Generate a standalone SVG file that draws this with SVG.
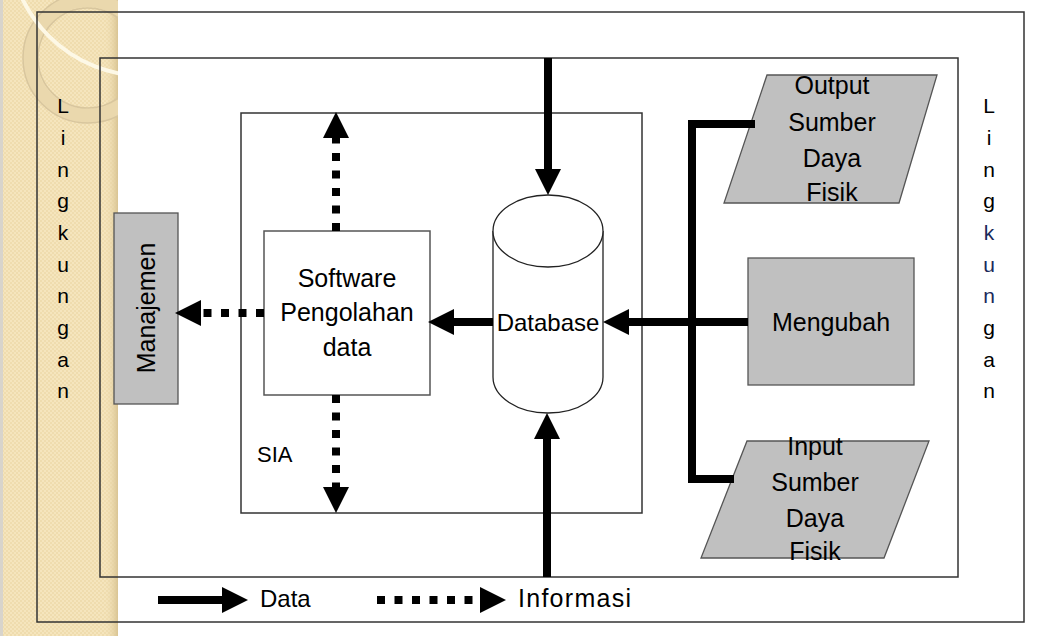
<svg xmlns="http://www.w3.org/2000/svg" width="1053" height="636" viewBox="0 0 1053 636">
<defs>
<style>
.frame{fill:none;stroke:#333;stroke-width:1.5}
.box{fill:#fff;stroke:#555;stroke-width:1.5}
.gray{fill:#c0c0c0;stroke:#555;stroke-width:1.3}
.txt{font-family:"Liberation Sans",Arial,sans-serif;fill:#000}
.lbl{font-size:25px;text-anchor:middle}
.ling{font-size:21px;text-anchor:middle}
.data{fill:none;stroke:#000;stroke-width:8}
.info{fill:none;stroke:#000;stroke-width:8;stroke-dasharray:8 9.5}
</style>
<marker id="head" markerUnits="userSpaceOnUse" viewBox="0 0 26 26" markerWidth="26" markerHeight="26" refX="0" refY="13" orient="auto">
<path d="M0,0 L26,13 L0,26 Z" fill="#000"/>
</marker>
<linearGradient id="edge" x1="0" y1="0" x2="1" y2="0">
<stop offset="0" stop-color="#f3e2b8" stop-opacity="0"/>
<stop offset="1" stop-color="#d9c493"/>
</linearGradient>
<pattern id="chk" width="4" height="4" patternUnits="userSpaceOnUse">
<rect width="4" height="4" fill="#f5e5bd"/>
<rect width="2" height="2" fill="#efdcae"/>
<rect x="2" y="2" width="2" height="2" fill="#efdcae"/>
</pattern>
<clipPath id="strip"><rect x="0" y="0" width="118" height="636"/></clipPath>
</defs>
<rect width="1053" height="636" fill="#fff"/>
<g id="background">
<rect x="0" y="0" width="118" height="636" fill="url(#chk)"/>
<rect x="0" y="0" width="3" height="636" fill="#d8d4cc"/>
<rect x="104" y="0" width="14" height="636" fill="url(#edge)"/>
<g clip-path="url(#strip)">
<circle cx="88" cy="58" r="58" fill="none" stroke="#ead8ad" stroke-width="14"/>
<circle cx="88" cy="58" r="65" fill="none" stroke="#d8c69e" stroke-width="1.5"/>
<circle cx="88" cy="58" r="50" fill="none" stroke="#d8c69e" stroke-width="1.5"/>
<circle cx="145" cy="-60" r="136" fill="none" stroke="#fdf8e6" stroke-width="4"/>
</g>
</g>
<g id="frames">
<rect class="frame" x="37" y="12" width="987" height="610"/>
<rect class="frame" x="100" y="58" width="858" height="519" stroke="#444"/>
</g>
<g id="sia">
<rect class="frame" x="241" y="113" width="401" height="400"/>
<text class="txt" x="257" y="462" font-size="22">SIA</text>
</g>
<g id="lingkungan-left" class="txt ling">
<text x="63" y="113">L</text><text x="63" y="145">i</text><text x="63" y="177">n</text><text x="63" y="208">g</text><text x="63" y="240">k</text><text x="63" y="272">u</text><text x="63" y="303">n</text><text x="63" y="335">g</text><text x="63" y="367">a</text><text x="63" y="398">n</text>
</g>
<g id="lingkungan-right" class="txt ling">
<text x="989" y="113">L</text><text x="989" y="145">i</text><text x="989" y="177">n</text><text x="989" y="208">g</text><text x="989" y="240" fill="#1a2a5a">k</text><text x="989" y="272" fill="#1a2a5a">u</text><text x="989" y="303" fill="#1a2a5a">n</text><text x="989" y="335">g</text><text x="989" y="367">a</text><text x="989" y="398">n</text>
</g>
<g id="manajemen">
<rect class="gray" x="114" y="213" width="64" height="191"/>
<text class="txt lbl" transform="translate(155,308) rotate(-90)">Manajemen</text>
</g>
<g id="software">
<rect class="box" x="264" y="231" width="166" height="164"/>
<text class="txt lbl" x="347" y="287">Software</text>
<text class="txt lbl" x="347" y="321">Pengolahan</text>
<text class="txt lbl" x="347" y="356">data</text>
</g>
<g id="database">
<path d="M493,231 V377 A55,36 0 0 0 603,377 V231" fill="#fff" stroke="#222" stroke-width="1.3"/>
<ellipse cx="548" cy="231" rx="55" ry="36" fill="#fff" stroke="#222" stroke-width="1.3"/>
<text class="txt" x="548" y="331" font-size="24" text-anchor="middle">Database</text>
</g>
<g id="output">
<polygon class="gray" points="767,75 937,75 899,203 724,203"/>
<text class="txt lbl" x="832" y="94">Output</text>
<text class="txt lbl" x="832" y="131">Sumber</text>
<text class="txt lbl" x="832" y="167">Daya</text>
<text class="txt lbl" x="832" y="201">Fisik</text>
</g>
<g id="mengubah">
<rect class="gray" x="748" y="258" width="166" height="127"/>
<text class="txt lbl" x="831" y="331">Mengubah</text>
</g>
<g id="input">
<polygon class="gray" points="747,441 929,441 884,558 701,558"/>
<text class="txt lbl" x="815" y="455">Input</text>
<text class="txt lbl" x="815" y="491">Sumber</text>
<text class="txt lbl" x="815" y="527">Daya</text>
<text class="txt lbl" x="815" y="560">Fisik</text>
</g>
<g id="connectors">
<path class="data" d="M548,58 V169" marker-end="url(#head)"/>
<path class="data" d="M547,577 V439" marker-end="url(#head)"/>
<path class="data" d="M493,322 H454" marker-end="url(#head)"/>
<path class="data" d="M748,322 H629" marker-end="url(#head)"/>
<path class="data" d="M755,124 H692 V479 H734" stroke-linejoin="miter"/>
<path class="info" d="M264,313 H201" marker-end="url(#head)"/>
<path class="info" d="M336,231 V138" marker-end="url(#head)"/>
<path class="info" d="M336,395 V487" marker-end="url(#head)"/>
</g>
<g id="legend">
<path class="data" d="M158,600 H222" marker-end="url(#head)"/>
<text class="txt" x="260" y="607" font-size="24">Data</text>
<path class="info" d="M377,600 H480" marker-end="url(#head)"/>
<text class="txt" x="518" y="607" font-size="25" textLength="113">Informasi</text>
</g>
</svg>
